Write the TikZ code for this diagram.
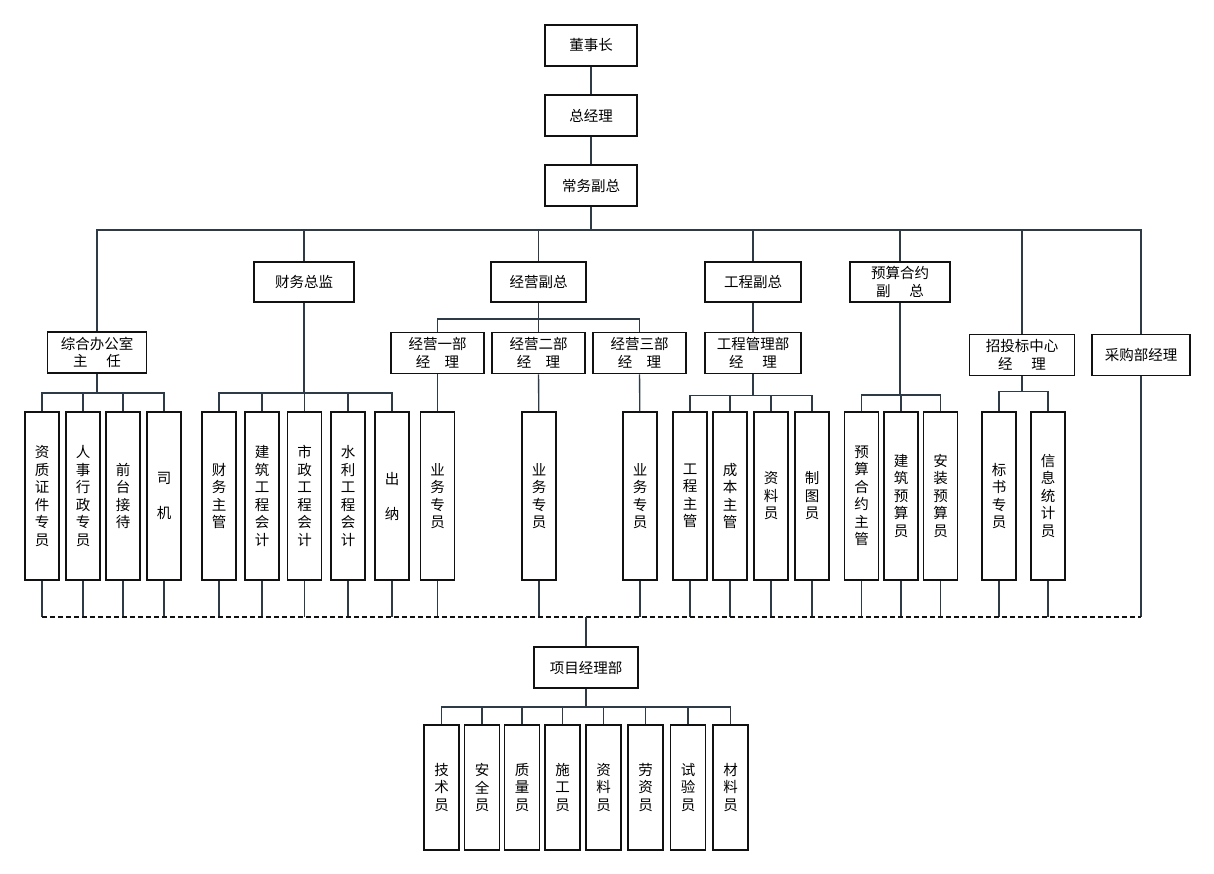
\documentclass[tikz,border=0pt]{standalone}
\usepackage{fontspec}
\newfontfamily\cjk{Noto Sans CJK SC}
\usepackage{tikz}
\definecolor{ink}{HTML}{111111}
\definecolor{slate}{HTML}{2E3B47}
\tikzset{box/.style={draw=ink,line width=1.8pt,fill=white,align=center,inner sep=0pt,font=\cjk\fontsize{14.5pt}{17.5pt}\selectfont},head/.style={box,minimum width=92pt,minimum height=41pt},cell/.style={box,minimum width=34pt,minimum height=168pt},pcell/.style={box,minimum width=35pt,minimum height=125pt},wire/.style={draw=slate,line width=1.3pt},dashwire/.style={draw=ink,line width=1.6pt,dash pattern=on 5pt off 3pt}}
\begin{document}
\begin{tikzpicture}[x=1pt,y=-1pt]
\useasboundingbox (0,0) rectangle (1214,874);
\node[head] (dsz) at (591,45.5) {董事长};
\node[head] (zjl) at (591,115.5) {总经理};
\node[head] (cwfz) at (591,185.5) {常务副总};
\coordinate (top) at (591,230);
\node[head,minimum width=100pt,minimum height=40pt] (cwzj) at (304,282) {财务总监};
\node[head,minimum width=95pt,minimum height=40pt] (jyfz) at (538.5,282) {经营副总};
\node[head,minimum width=96pt,minimum height=40pt] (gcfz) at (753,282) {工程副总};
\node[head,minimum width=100pt,minimum height=40pt] (ysfz) at (900,282) {预算合约\\副\hspace{1.3em}总};
\node[head,minimum width=99pt] (zhb) at (97,352.5) {综合办公室\\主\hspace{1.3em}任};
\node[head,minimum width=93pt] (jy1) at (437.5,353) {经营一部\\经\hspace{1em}理};
\node[head,minimum width=93pt] (jy2) at (538.5,353) {经营二部\\经\hspace{1em}理};
\node[head,minimum width=93pt] (jy3) at (639.5,353) {经营三部\\经\hspace{1em}理};
\node[head,minimum width=96pt] (gcb) at (753,353) {工程管理部\\经\hspace{1.3em}理};
\node[head,minimum width=105pt] (ztb) at (1022,355) {招投标中心\\经\hspace{1.3em}理};
\node[head,minimum width=98pt] (cgb) at (1141,355) {采购部经理};
\node[cell] (zz) at (42,496) {资\\质\\证\\件\\专\\员};
\node[cell] (rs) at (83,496) {人\\事\\行\\政\\专\\员};
\node[cell] (qt) at (123,496) {前\\台\\接\\待};
\node[cell] (sj) at (164,496) {司\\[17.5pt]机};
\node[cell] (cwzg) at (219,496) {财\\务\\主\\管};
\node[cell] (jzkj) at (262,496) {建\\筑\\工\\程\\会\\计};
\node[cell] (szkj) at (304.5,496) {市\\政\\工\\程\\会\\计};
\node[cell] (slkj) at (348,496) {水\\利\\工\\程\\会\\计};
\node[cell] (cn) at (392,496) {出\\[17.5pt]纳};
\node[cell] (yw1) at (437.5,496) {业\\务\\专\\员};
\node[cell] (yw2) at (539,496) {业\\务\\专\\员};
\node[cell] (yw3) at (640,496) {业\\务\\专\\员};
\node[cell] (gczg) at (690,496) {工\\程\\主\\管};
\node[cell] (cbzg) at (730,496) {成\\本\\主\\管};
\node[cell] (zly) at (771,496) {资\\料\\员};
\node[cell] (zty) at (812,496) {制\\图\\员};
\node[cell] (yszg) at (861.5,496) {预\\算\\合\\约\\主\\管};
\node[cell] (jzys) at (901,496) {建\\筑\\预\\算\\员};
\node[cell] (azys) at (940.5,496) {安\\装\\预\\算\\员};
\node[cell] (bszy) at (999,496) {标\\书\\专\\员};
\node[cell] (xxtj) at (1048,496) {信\\息\\统\\计\\员};
\coordinate (base) at (586,617);
\node[head,minimum width=104pt] (xmb) at (586,667.5) {项目经理部};
\node[pcell] (jsy) at (441.5,787.5) {技\\术\\员};
\node[pcell] (aqy) at (482,787.5) {安\\全\\员};
\node[pcell] (zl) at (522,787.5) {质\\量\\员};
\node[pcell] (sgy) at (562.5,787.5) {施\\工\\员};
\node[pcell] (zlb) at (603.5,787.5) {资\\料\\员};
\node[pcell] (lzy) at (645.5,787.5) {劳\\资\\员};
\node[pcell] (syy) at (688,787.5) {试\\验\\员};
\node[pcell] (cly) at (730.5,787.5) {材\\料\\员};
\draw[wire] (dsz) -- (zjl);
\draw[wire] (zjl) -- (cwfz);
\draw[wire] (cwfz) -- (top);
\draw[wire] (zhb.north) |- (top) -| (cgb.north);
\foreach \n in {cwzj,jyfz,gcfz,ysfz,ztb} \draw[wire] (\n.north) -- (\n.north |- top);
\foreach \n in {zz,rs,qt,sj} \draw[wire] (zhb.south) -- ++(0,19) -| (\n.north);
\foreach \n in {cwzg,jzkj,szkj,slkj,cn} \draw[wire] (cwzj.south) -- ++(0,90) -| (\n.north);
\foreach \n in {jy1,jy2,jy3} \draw[wire] (jyfz.south) -- ++(0,16) -| (\n.north);
\draw[wire] (jy1) -- (yw1);
\draw[wire] (jy2) -- (yw2);
\draw[wire] (jy3) -- (yw3);
\draw[wire] (gcfz) -- (gcb);
\foreach \n in {gczg,cbzg,zly,zty} \draw[wire] (gcb.south) -- ++(0,21) -| (\n.north);
\foreach \n in {yszg,jzys,azys} \draw[wire] (ysfz.south) -- ++(0,92) -| (\n.north);
\foreach \n in {bszy,xxtj} \draw[wire] (ztb.south) -- ++(0,15) -| (\n.north);
\foreach \n in {zz,rs,qt,sj,cwzg,jzkj,szkj,slkj,cn,yw1,yw2,yw3,gczg,cbzg,zly,zty,yszg,jzys,azys,bszy,xxtj,cgb} \draw[wire] (\n.south) -- (\n.south |- base);
\draw[dashwire] (zz.south |- base) -- (cgb.south |- base);
\draw[wire] (base) -- (xmb);
\foreach \n in {jsy,aqy,zl,sgy,zlb,lzy,syy,cly} \draw[wire] (xmb.south) -- ++(0,18) -| (\n.north);
\end{tikzpicture}
\end{document}
